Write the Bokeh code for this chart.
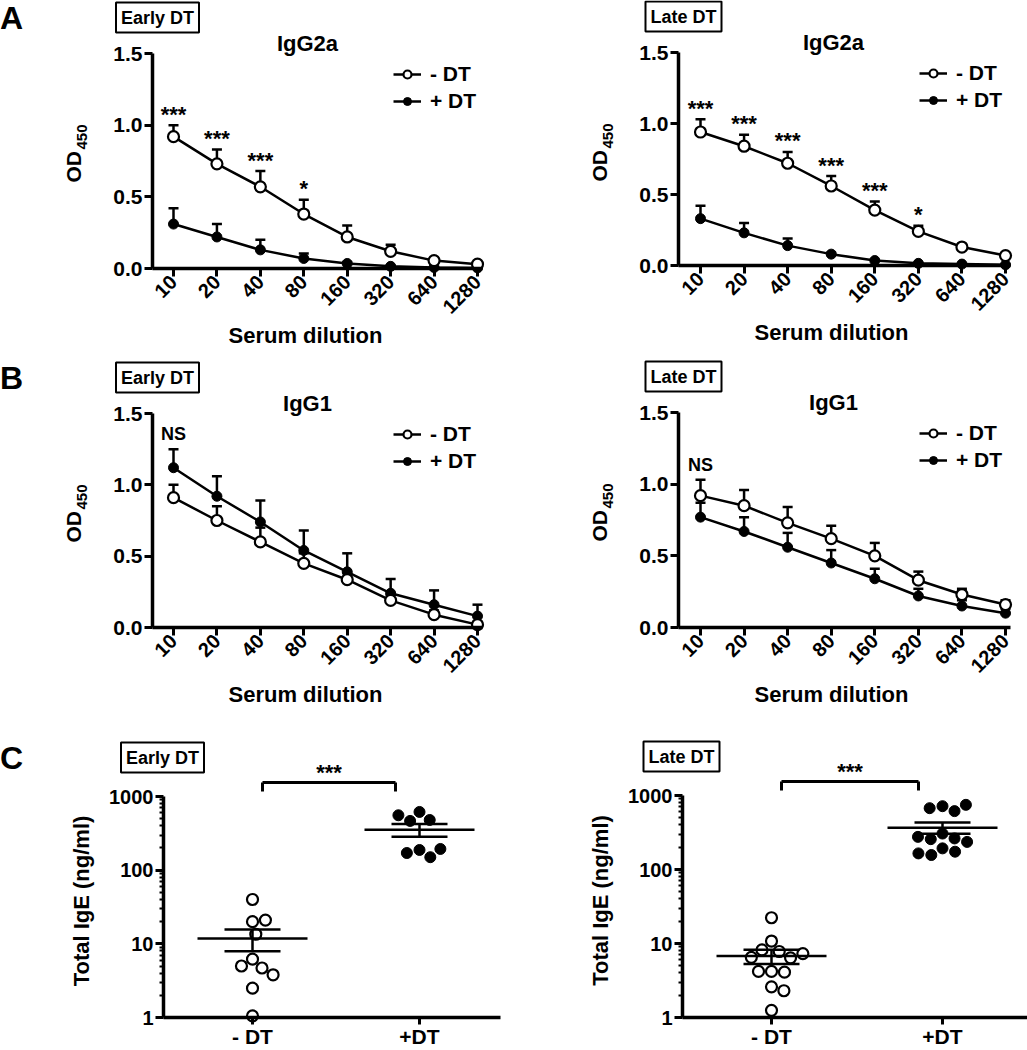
import numpy as np
from bokeh.plotting import figure
from bokeh.models import FixedTicker, PrintfTickFormatter, Label, Legend, LegendItem
from bokeh.layouts import row, column
from bokeh.embed import file_html
from bokeh.resources import INLINE
from bokeh.core.properties import value

FONT = "Liberation Sans"

# ---------------- data ----------------
dilutions = ["10", "20", "40", "80", "160", "320", "640", "1280"]
legend_labels = ["- DT", "+ DT"]
ige_groups = ["- DT", "+DT"]

# A: IgG2a
igg2a_early_minus = [0.92, 0.73, 0.57, 0.38, 0.22, 0.12, 0.055, 0.03]
igg2a_early_minus_sem = [0.08, 0.10, 0.11, 0.10, 0.08, 0.045, 0.015, 0.01]
igg2a_early_plus = [0.31, 0.22, 0.13, 0.07, 0.035, 0.015, 0.007, 0.004]
igg2a_early_plus_sem = [0.11, 0.09, 0.07, 0.035, 0.01, 0.005, 0.003, 0.002]
igg2a_early_sig = ["***", "***", "***", "*", "", "", "", ""]

igg2a_late_minus = [0.94, 0.84, 0.72, 0.56, 0.39, 0.24, 0.13, 0.07]
igg2a_late_minus_sem = [0.09, 0.08, 0.08, 0.07, 0.06, 0.04, 0.015, 0.01]
igg2a_late_plus = [0.33, 0.23, 0.14, 0.08, 0.035, 0.015, 0.01, 0.005]
igg2a_late_plus_sem = [0.09, 0.07, 0.05, 0.01, 0.005, 0.003, 0.002, 0.001]
igg2a_late_sig = ["***", "***", "***", "***", "***", "*", "", ""]

# B: IgG1
igg1_early_minus = [0.91, 0.75, 0.60, 0.45, 0.335, 0.19, 0.09, 0.02]
igg1_early_minus_sem = [0.09, 0.10, 0.10, 0.07, 0.05, 0.04, 0.03, 0.02]
igg1_early_plus = [1.12, 0.92, 0.74, 0.54, 0.39, 0.24, 0.16, 0.08]
igg1_early_plus_sem = [0.13, 0.14, 0.15, 0.14, 0.13, 0.10, 0.10, 0.08]
igg1_early_sig = ["NS", "", "", "", "", "", "", ""]

igg1_late_minus = [0.92, 0.85, 0.73, 0.62, 0.50, 0.33, 0.23, 0.16]
igg1_late_minus_sem = [0.11, 0.11, 0.11, 0.09, 0.09, 0.06, 0.04, 0.03]
igg1_late_plus = [0.77, 0.67, 0.56, 0.45, 0.34, 0.22, 0.15, 0.10]
igg1_late_plus_sem = [0.10, 0.10, 0.10, 0.09, 0.07, 0.05, 0.04, 0.03]
igg1_late_sig = ["NS", "", "", "", "", "", "", ""]

# C: total IgE (ng/ml)
ige_early_minus = [40, 20, 21, 13.5, 6.2, 4.7, 5.0, 3.8, 2.5, 1.05]
ige_early_plus = [617, 480, 466, 556, 188, 150, 171, 194]
ige_late_minus = [22.3, 10.8, 7.8, 8.2, 6.4, 6.5, 7.3, 4.2, 4.1, 4.2, 2.6, 2.3, 1.25]
ige_late_plus = [717, 615, 674, 748, 306, 263, 257, 276, 236, 193, 174, 157, 165]
ige_sig = "***"


# ---------------- helpers ----------------
class Geo:
    """Maps figure-local pixels (x from left, y from top) to data values."""

    def __init__(self, w, h, xa, ya, log=False):
        self.w, self.h, self.log = w, h, log
        px0, v0, px1, v1 = xa
        self.kx = (v1 - v0) / (px1 - px0)
        self.x0 = v0 - px0 * self.kx
        py0, w0, py1, w1 = ya
        if log:
            w0, w1 = np.log10(w0), np.log10(w1)
        self.ky = (w1 - w0) / (py1 - py0)
        self.y0 = w0 - py0 * self.ky

    def X(self, px):
        return self.x0 + px * self.kx

    def Y(self, py):
        v = self.y0 + py * self.ky
        return 10 ** v if self.log else v

    def py(self, v):
        t = np.log10(v) if self.log else v
        return (t - self.y0) / self.ky

    def xr(self):
        return (self.X(0), self.X(self.w))

    def yr(self):
        return (self.Y(self.h), self.Y(0))


def base_fig(g, log=False):
    kw = dict(width=g.w, height=g.h, x_range=g.xr(), y_range=g.yr(), output_backend="svg",
              toolbar_location=None, min_border=0, min_border_left=0, min_border_right=0,
              min_border_top=0, min_border_bottom=0,
              background_fill_color="white", border_fill_color="white",
              outline_line_color=None)
    if log:
        kw["y_axis_type"] = "log"
    p = figure(**kw)
    p.xgrid.visible = False
    p.ygrid.visible = False
    for ax in (p.xaxis[0], p.yaxis[0]):
        ax.axis_line_width = 3.5
        ax.axis_line_color = "black"
        ax.major_tick_line_width = 3
        ax.major_tick_line_color = "black"
        ax.major_tick_out = 8
        ax.major_tick_in = 0
        ax.minor_tick_line_color = None
        ax.major_label_text_font = FONT
        ax.major_label_text_font_style = "bold"
        ax.major_label_text_font_size = "21px"
        ax.major_label_text_color = "black"
        ax.major_label_standoff = 2
    return p


def label(p, x, y, text, size, align="center", baseline="middle", angle=0.0, box=False):
    kw = dict(x=x, y=y, text=text, text_font=FONT, text_font_style="bold",
              text_font_size=size, text_color="black", text_align=align,
              text_baseline=baseline, angle=angle)
    if box:
        kw.update(border_line_color="black", border_line_width=2,
                  background_fill_color="white", padding=5)
    p.add_layout(Label(**kw))


def line_panel(w, h, ax_px, first_px, last_px, zero_py, top_py, data, sig,
               box_text, title, letter=None):
    minus, minus_sem, plus, plus_sem = data
    n = len(dilutions)
    g = Geo(w, h, (first_px, 0, last_px, n - 1), (zero_py, 0.0, top_py, 1.5))
    p = base_fig(g)
    X, Y = g.X, g.Y
    x = np.arange(n)

    p.xaxis.fixed_location = 0.0
    p.yaxis.fixed_location = X(ax_px)
    p.xaxis.bounds = (X(ax_px), X(min(last_px + 5, w)))
    p.yaxis.bounds = (0.0, 1.5)
    p.xaxis.ticker = FixedTicker(ticks=[int(i) for i in x])
    p.xaxis.major_label_overrides = {int(i): d for i, d in enumerate(dilutions)}
    p.xaxis.major_label_orientation = np.pi / 4
    p.xaxis.major_label_text_font_size = "20px"
    p.yaxis.ticker = FixedTicker(ticks=[0, 0.5, 1.0, 1.5])
    p.yaxis.formatter = PrintfTickFormatter(format="%.1f")

    cap = X(5) - X(0)
    for ys, es in ((plus, plus_sem), (minus, minus_sem)):
        ys = np.array(ys)
        top = ys + np.array(es)
        p.segment(x, ys, x, top, line_width=2.5, line_color="black")
        p.segment(x - cap, top, x + cap, top, line_width=2.5, line_color="black")
    rp_line = p.line(x, plus, line_width=2.5, line_color="black")
    rm_line = p.line(x, minus, line_width=2.5, line_color="black")
    rp_pts = p.scatter(x, plus, marker="circle", size=10, fill_color="black",
                       line_color="black", line_width=1)
    rm_pts = p.scatter(x, minus, marker="circle", size=11, fill_color="white",
                       line_color="black", line_width=2.2)

    tops = np.maximum(np.array(minus) + np.array(minus_sem),
                      np.array(plus) + np.array(plus_sem))
    star_x, star_y, star_t, ns_x, ns_y, ns_t = [], [], [], [], [], []
    for i, s in enumerate(sig):
        if not s:
            continue
        if s.strip("*") == "":
            star_x.append(i); star_y.append(Y(g.py(tops[i]) - 11)); star_t.append(s)
        else:
            ns_x.append(i); ns_y.append(Y(g.py(tops[i]) - 15)); ns_t.append(s)
    if star_x:
        p.text(star_x, star_y, text=star_t, text_align="center", text_baseline="middle",
               text_font=value(FONT), text_font_style="bold", text_font_size="22px",
               text_color="black")
    if ns_x:
        p.text(ns_x, ns_y, text=ns_t, text_align="center", text_baseline="middle",
               text_font=value(FONT), text_font_style="bold", text_font_size="18px",
               text_color="black")

    legend_top = top_py + 11
    legend = Legend(items=[LegendItem(label=legend_labels[0], renderers=[rm_line, rm_pts]),
                           LegendItem(label=legend_labels[1], renderers=[rp_line, rp_pts])],
                    location=(ax_px + 241, h - legend_top - 49), border_line_color=None,
                    background_fill_alpha=0, label_text_font=FONT,
                    label_text_font_style="bold", label_text_font_size="21px",
                    label_text_color="black",
                    glyph_width=28, glyph_height=20, label_height=20, label_standoff=9,
                    spacing=3, padding=0, margin=0)
    p.add_layout(legend)

    head_py = top_py - 36
    if letter:
        label(p, X(11), Y(head_py), letter, "32px")
    label(p, X(ax_px + 5), Y(head_py), box_text, "18px", box=True)
    label(p, X(ax_px + 155), Y(top_py - 10), title, "22px")
    label(p, X(ax_px - 79), Y(top_py + 129), "OD", "21px", align="left",
          angle=np.pi / 2)
    label(p, X(ax_px - 71), Y(top_py + 129 - 33), "450", "15px", align="left",
          angle=np.pi / 2)
    label(p, X(ax_px + 153), Y(zero_py + 67), "Serum dilution", "22px")
    return p


def swarm(vals, ppd, diam):
    placed = []
    out = []
    for yv in np.log10(np.array(vals, dtype=float)) * ppd:
        cands = [0.0]
        for xo, yo in placed:
            dy = yv - yo
            if abs(dy) < diam:
                dx = np.sqrt(diam ** 2 - dy ** 2)
                cands += [xo + dx, xo - dx]
        cands.sort(key=abs)
        chosen = 0.0
        for c in cands:
            if all((c - xo) ** 2 + (yv - yo) ** 2 >= diam ** 2 - 1e-6 for xo, yo in placed):
                chosen = c
                break
        placed.append((chosen, yv))
        out.append(chosen)
    return np.array(out)


def ige_panel(w, h, ax_px, g0_px, g1_px, end_px, one_py, k_py, minus, plus, box_text,
              letter=None):
    g = Geo(w, h, (g0_px, 0, g1_px, 1), (one_py, 1.0, k_py, 1000.0), log=True)
    p = base_fig(g, log=True)
    X, Y = g.X, g.Y
    ppd = (one_py - k_py) / 3.0
    ppu = g1_px - g0_px

    p.xaxis.fixed_location = 1.0
    p.yaxis.fixed_location = X(ax_px)
    p.xaxis.bounds = (X(ax_px), X(end_px))
    p.yaxis.bounds = (1, 1000)
    p.xaxis.ticker = FixedTicker(ticks=[0, 1])
    p.xaxis.major_label_overrides = {0: ige_groups[0], 1: ige_groups[1]}
    p.xaxis.major_tick_out = 7
    p.xaxis.major_label_standoff = 0
    p.xaxis.major_label_text_font_size = "21px"
    minor = [m * 10 ** e for e in range(3) for m in range(2, 10)]
    p.yaxis.ticker = FixedTicker(ticks=[1, 10, 100, 1000], minor_ticks=minor)
    p.yaxis.formatter = PrintfTickFormatter(format="%d")
    p.yaxis.minor_tick_line_color = "black"
    p.yaxis.minor_tick_line_width = 2
    p.yaxis.minor_tick_out = 4
    p.yaxis.minor_tick_in = 0
    p.yaxis.major_label_text_font_size = "20px"

    for gi, vals, filled in ((0, minus, False), (1, plus, True)):
        vals = np.array(vals, dtype=float)
        xs = gi + swarm(vals, ppd, 13.0) / ppu
        if filled:
            p.scatter(xs, vals, marker="circle", size=11, fill_color="black",
                      line_color="black", line_width=1)
        else:
            p.scatter(xs, vals, marker="circle", size=11, fill_color="white",
                      line_color="black", line_width=2.2)
        m = vals.mean()
        s = vals.std(ddof=1) / np.sqrt(len(vals))
        hw_m = 55 / ppu
        hw_s = 28 / ppu
        p.segment([gi - hw_m, gi - hw_s, gi - hw_s, gi], [m, m + s, m - s, m - s],
                  [gi + hw_m, gi + hw_s, gi + hw_s, gi], [m, m + s, m - s, m + s],
                  line_width=2.5, line_color="black")

    # significance bracket
    xl = 0 + 10 / ppu
    xr2 = 1 - 24 / ppu
    yb = Y(k_py - 14)
    yt = Y(k_py - 5)
    p.segment([xl, xl, xr2], [yb, yb, yb], [xr2, xl, xr2], [yb, yt, yt],
              line_width=3, line_color="black")
    p.text([(xl + xr2) / 2], [Y(k_py - 24)], text=[ige_sig], text_align="center",
           text_baseline="middle", text_font=value(FONT), text_font_style="bold",
           text_font_size="22px", text_color="black")

    head_py = k_py - 39
    if letter:
        label(p, X(11), Y(head_py), letter, "32px")
    label(p, X(ax_px - 1), Y(head_py), box_text, "18px", box=True)
    label(p, X(ax_px - 82), Y((one_py + k_py) / 2 - 6), "Total IgE (ng/ml)", "22px",
          angle=np.pi / 2)
    return p


# ---------------- layout ----------------
pA1 = line_panel(510, 358, 152, 173, 477, 268, 53,
                 (igg2a_early_minus, igg2a_early_minus_sem, igg2a_early_plus,
                  igg2a_early_plus_sem), igg2a_early_sig, "Early DT", "IgG2a", letter="A")
pA2 = line_panel(517, 358, 168, 190, 495, 265, 52,
                 (igg2a_late_minus, igg2a_late_minus_sem, igg2a_late_plus,
                  igg2a_late_plus_sem), igg2a_late_sig, "Late DT", "IgG2a")
pB1 = line_panel(510, 370, 152, 173, 477, 269, 55,
                 (igg1_early_minus, igg1_early_minus_sem, igg1_early_plus,
                  igg1_early_plus_sem), igg1_early_sig, "Early DT", "IgG1", letter="B")
pB2 = line_panel(517, 370, 168, 190, 495, 269, 54,
                 (igg1_late_minus, igg1_late_minus_sem, igg1_late_plus,
                  igg1_late_plus_sem), igg1_late_sig, "Late DT", "IgG1")
pC1 = ige_panel(510, 321, 163, 252, 419, 500, 289, 68,
                ige_early_minus, ige_early_plus, "Early DT", letter="C")
pC2 = ige_panel(517, 321, 172, 261, 432, 517, 289, 67,
                ige_late_minus, ige_late_plus, "Late DT")

layout = column(row(pA1, pA2), row(pB1, pB2), row(pC1, pC2))

open("out.html", "w").write(file_html(layout, INLINE))
